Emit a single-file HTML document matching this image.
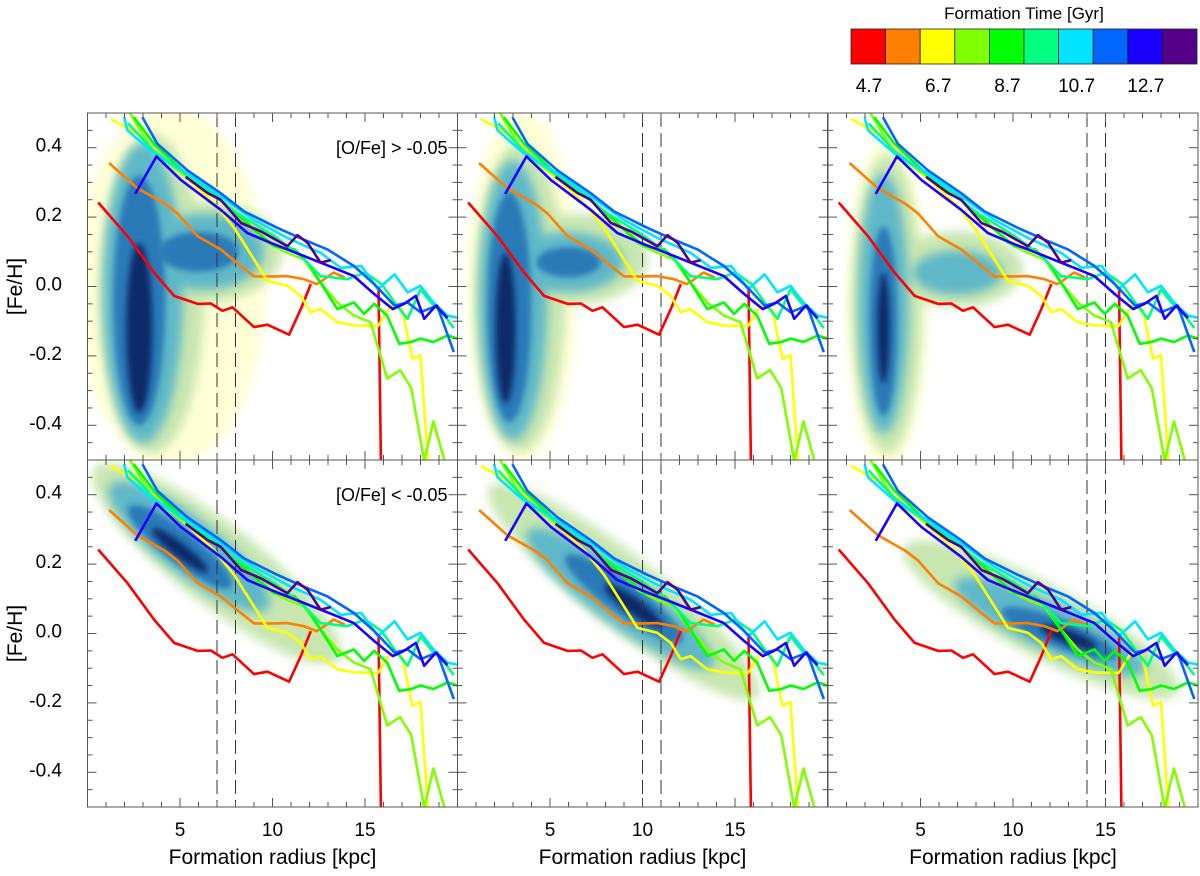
<!DOCTYPE html>
<html><head><meta charset="utf-8">
<style>
body{margin:0;background:#fff;width:1200px;height:871px;overflow:hidden;font-family:"Liberation Sans",sans-serif;}
svg text{font-family:"Liberation Sans",sans-serif;}
</style></head>
<body>
<svg id="chart" width="1200" height="871" viewBox="0 0 1200 871" xmlns="http://www.w3.org/2000/svg">
<defs><filter id="bl" x="-50%" y="-50%" width="200%" height="200%"><feGaussianBlur stdDeviation="5"/></filter>
<filter id="bl2" x="-50%" y="-50%" width="200%" height="200%"><feGaussianBlur stdDeviation="3"/></filter></defs>
<g id="colorbar"></g>
<g id="panels"></g>
</svg>
<script>
const NS="http://www.w3.org/2000/svg";
const svg=document.getElementById('chart');
const cbColors=["#ff0000","#ff8000","#ffff00","#80ff00","#00ff00","#00ff80","#00e5ff","#0066ff","#1a00ff","#55008a"];
const cbLabels=["4.7","6.7","8.7","10.7","12.7"];
const seriesNames=["t4.7","t5.7","t6.7","t7.7","t8.7","t9.7","t10.7","t11.7","t12.7","t13.7"];
const redX=[0.58,2.16,3.6,4.68,5.95,6.67,7.3,7.84,9.0,9.73,10.9,11.53,12.07,null,15.73,15.86];
const redY=[0.242,0.145,0.04,-0.027,-0.05,-0.049,-0.07,-0.06,-0.117,-0.11,-0.139,-0.065,0.007,null,0.0,-0.503];
const orangeX=[1.17,2.7,4.14,4.86,5.95,7.2,8.29,9.0,10.1,10.8,11.7,12.4,12.8,13.3,13.9];
const orangeY=[0.356,0.283,0.24,0.211,0.145,0.107,0.059,0.029,0.029,0.03,0.021,0.007,0.021,0.04,0.026];
const yellowX=[1.26,2.7,4.14,5.4,6.85,7.93,9.0,9.73,10.8,11.53,12.07,12.6,13.5,14.4,15.7,16.4,17.0,17.57,18.0,18.4];
const yellowY=[0.483,0.44,0.369,0.311,0.24,0.169,0.078,0.016,0.002,-0.027,-0.074,-0.065,-0.103,-0.112,-0.114,-0.055,-0.065,-0.208,-0.198,-0.503];
const limeX=[2.3,3.6,5.4,7.2,8.65,9.73,10.8,11.7,12.6,13.5,14.4,15.3,16.2,16.9,17.5,18.2,18.7,19.3];
const limeY=[0.5,0.383,0.316,0.25,0.183,0.126,0.097,0.078,0.011,-0.046,-0.084,-0.103,-0.265,-0.241,-0.293,-0.503,-0.389,-0.503];
const greenX=[2.5,3.6,5.4,7.2,9.0,10.1,11.2,11.9,12.6,13.5,14.4,14.95,15.5,16.2,16.85,17.5,18.0,18.7,19.46,20];
const greenY=[0.488,0.411,0.321,0.25,0.164,0.116,0.107,0.069,0.011,-0.065,-0.046,-0.079,-0.05,-0.084,-0.165,-0.16,-0.15,-0.16,-0.141,-0.15];
const springX=[2.2,3.6,5.4,8.1,10.1,11.5,12.6,14.05,15.0,15.9,16.6,17.3,18.0,18.56,19.3,19.8];
const springY=[0.47,0.39,0.321,0.211,0.145,0.09,0.03,0.021,0.04,0.007,-0.046,-0.093,-0.008,-0.046,-0.084,-0.12];
const cyanX=[1.98,2.16,3.6,5.4,7.2,9.0,10.8,12.6,13.7,14.8,15.7,16.6,17.3,18.0,18.7,19.46,20];
const cyanY=[0.488,0.45,0.383,0.326,0.259,0.192,0.14,0.097,0.054,0.059,-0.008,0.035,-0.017,0.002,-0.046,-0.084,-0.09];
const blueX=[2.97,3.78,5.4,7.2,8.47,10.27,11.7,12.97,14.4,15.5,16.6,17.3,18.0,18.9,19.8];
const blueY=[0.488,0.411,0.335,0.269,0.216,0.169,0.135,0.107,0.059,0.007,-0.055,-0.046,-0.074,-0.055,-0.189];
const indigoX=[2.58,3.73,5.05,7.2,8.65,9.9,11.7,13.3,14.4,15.5,16.5,17.1,17.75,18.2,18.83,19.46];
const indigoY=[0.267,0.375,0.307,0.221,0.154,0.126,0.088,0.054,0.03,-0.022,-0.065,-0.05,-0.027,-0.093,-0.055,-0.091];
const purpleX=[5.3,6.5,7.2,8.3,9.37,10.8,11.35,11.9,12.6,13.15];
const purpleY=[0.316,0.269,0.25,0.183,0.159,0.116,0.148,0.126,0.069,0.076];
const seriesX=[redX,orangeX,yellowX,limeX,greenX,springX,cyanX,blueX,indigoX,purpleX];
const seriesY=[redY,orangeY,yellowY,limeY,greenY,springY,cyanY,blueY,indigoY,purpleY];
const xTicks=[5,10,15];
const yTicks=[0.4,0.2,0.0,-0.2,-0.4];
const yTickLabels=["0.4","0.2","0.0","-0.2","-0.4"];
const dashPairs=[[7,8],[10,11],[14,15]];
const dens=["#ffffd6","#c8e6b0","#5fb8c8","#2a7ab8","#0b2a6a"];
// blobs: [kpc, feh, rxPx, ryPx, angle, level]
const blobsTop=[
 [[4.5,0.0,95,180,0,0],[3.5,-0.02,52,160,0,1],[6.5,0.1,75,50,0,1],[3,-0.02,40,150,0,2],[6.3,0.1,60,38,0,2],[2.8,-0.04,26,125,0,3],[6,0.1,40,20,0,3],[2.8,-0.12,13,85,0,4]],
 [[3.5,0.0,55,175,0,0],[3.4,-0.03,45,155,0,1],[6.5,0.08,70,45,0,1],[3,-0.04,34,140,0,2],[6,0.07,55,30,0,2],[2.8,-0.06,22,115,0,3],[6,0.07,32,15,0,3],[2.6,-0.12,10,75,0,4]],
 [[3.2,-0.05,40,165,0,0],[3.2,-0.05,35,150,0,1],[7,0.05,65,38,0,1],[3,-0.05,25,130,0,2],[7,0.04,45,22,0,2],[3,-0.1,14,95,0,3],[3,-0.12,6,55,0,4]]];
const blobsBot=[
 [[7,0.2,155,40,38,1],[5.5,0.25,100,28,38,2],[5,0.25,65,16,38,3],[5,0.24,35,7,38,4]],
 [[9,0.12,170,36,38,1],[8.8,0.1,115,26,36,2],[9,0.1,72,16,36,3],[9.5,0.08,35,8,36,4]],
 [[11.5,0.04,155,36,28,1],[12,0.02,105,24,25,2],[12.5,0.0,62,14,22,3],[13,-0.01,30,7,20,4]]];
const PX=[87.5,457.5,828],PW=370,PY=[113,460],PH=347;
function el(tag,attrs,parent){const e=document.createElementNS(NS,tag);for(const k in attrs)e.setAttribute(k,attrs[k]);(parent||svg).appendChild(e);return e;}
const cb=document.getElementById('colorbar');
const cbt=el('text',{x:1024,y:19,'font-size':17,'text-anchor':'middle'},cb);cbt.textContent="Formation Time [Gyr]";

cbColors.forEach((c,i)=>{const r=el('rect',{x:851+i*34.6,y:29,width:34.6,height:35,fill:c,stroke:'#222','stroke-width':0.8},cb);
 });
cbLabels.forEach((l,i)=>{const t=el('text',{x:869+i*69.2,y:92,'font-size':19,'text-anchor':'middle'},cb);t.textContent=l;
 });
for(let r=0;r<2;r++)for(let c=0;c<3;c++){
 const x0=PX[c],y0=PY[r];
 const sx=k=>x0+k/20*PW, sy=f=>y0+(0.5-f)*PH;
 const g=el('g',{},document.getElementById('panels'));
 
 el('clipPath',{id:'cp'+r+c},g).appendChild(el('rect',{x:x0,y:y0,width:PW,height:PH},g));
 const dg=el('g',{'clip-path':'url(#cp'+r+c+')'},g);
 
 const bl=(r===0?blobsTop:blobsBot)[c];
 bl.forEach(b=>{const e=el('ellipse',{cx:sx(b[0]),cy:sy(b[1]),rx:b[2],ry:b[3],fill:dens[b[5]],filter:b[5]>2?'url(#bl2)':'url(#bl)',transform:'rotate('+b[4]+' '+sx(b[0])+' '+sy(b[1])+')'},dg);
  });
 dashPairs[c].forEach(k=>{const l=el('line',{x1:sx(k),x2:sx(k),y1:y0,y2:y0+PH,stroke:'#333','stroke-width':1,'stroke-dasharray':'14,6'},g);
  });
 const lg=el('g',{'clip-path':'url(#cp'+r+c+')'},g);
 seriesX.forEach((xs,i)=>{let d='',pen=false;
  xs.forEach((k,j)=>{const f=seriesY[i][j];if(k===null){pen=false;return;}d+=(pen?'L':'M')+sx(k).toFixed(1)+' '+sy(f).toFixed(1);pen=true;});
  const p=el('path',{d:d,fill:'none',stroke:cbColors[i],'stroke-width':2.6,'stroke-linejoin':'round'},lg);
  });
 el('rect',{x:x0,y:y0,width:PW,height:PH,fill:'none',stroke:'#555','stroke-width':1},g);
 for(let k=1;k<20;k++){const len=xTicks.includes(k)?9:5;
  el('line',{x1:sx(k),x2:sx(k),y1:y0+PH,y2:y0+PH-len,stroke:'#555'},g);el('line',{x1:sx(k),x2:sx(k),y1:y0,y2:y0+len,stroke:'#555'},g);}
 for(let f=-0.45;f<0.5;f+=0.05){const isM=Math.abs(Math.round(f*10)/10-f)<0.001&&Math.round(f*10)%2===0;const len=isM?9:5;
  el('line',{x1:x0,x2:x0+len,y1:sy(f),y2:sy(f),stroke:'#555'},g);el('line',{x1:x0+PW,x2:x0+PW-len,y1:sy(f),y2:sy(f),stroke:'#555'},g);}
 if(c===0){yTicks.forEach((f,i)=>{const t=el('text',{x:62,y:sy(f)+4,'font-size':19,'text-anchor':'end'},g);t.textContent=yTickLabels[i];
  });
  const yt=el('text',{x:0,y:0,'font-size':21,'text-anchor':'middle',transform:'translate(22,'+(y0+PH/2)+') rotate(-90)'},g);yt.textContent='[Fe/H]';
  
  const an=el('text',{x:x0+PW-10,y:y0+41,'font-size':18,'text-anchor':'end'},g);an.textContent=r===0?'[O/Fe] > -0.05':'[O/Fe] < -0.05';
  }
 if(r===1){xTicks.forEach(k=>{const t=el('text',{x:sx(k),y:836,'font-size':19,'text-anchor':'middle'},g);t.textContent=k;
  });
  const xt=el('text',{x:x0+PW/2,y:864,'font-size':21,'text-anchor':'middle'},g);xt.textContent='Formation radius [kpc]';
  }
}
</script>
</body></html>
